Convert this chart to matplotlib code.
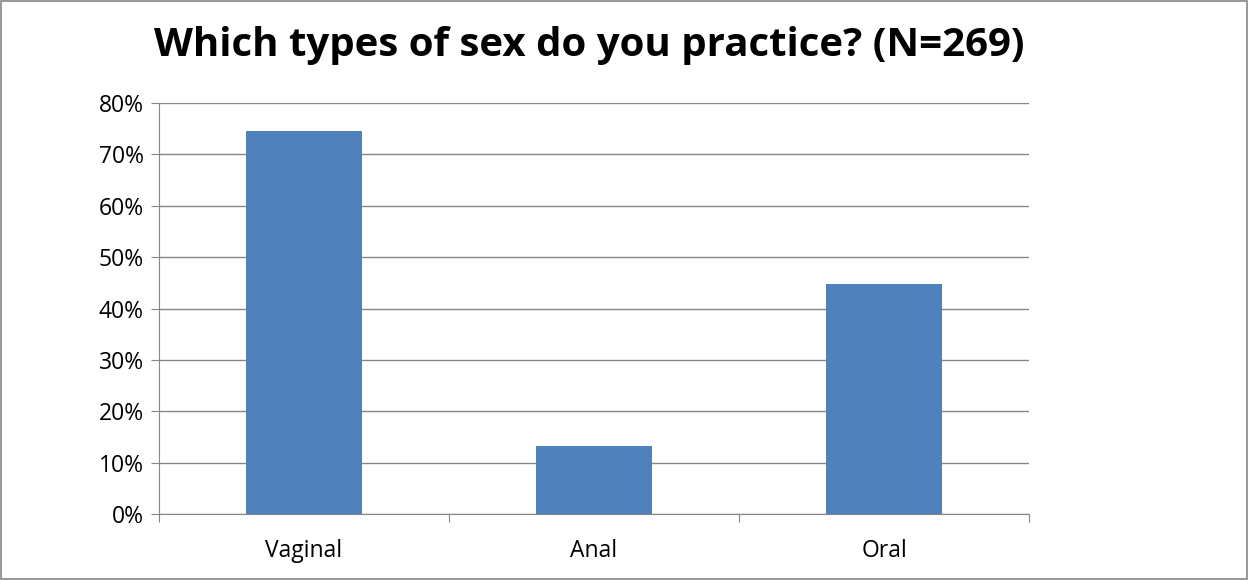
import matplotlib.pyplot as plt
from matplotlib.patches import Rectangle

categories = ['Vaginal', 'Anal', 'Oral']
values = [74.5, 13.2, 44.8]
yticks = [0, 10, 20, 30, 40, 50, 60, 70, 80]

plt.rcParams['font.family'] = ['Open Sans', 'DejaVu Sans']

fig = plt.figure(figsize=(12.49, 5.8), dpi=100)
fig.patches.append(Rectangle((0.001, 0.002), 0.997, 0.996, transform=fig.transFigure,
                             fill=False, edgecolor='#868686', linewidth=1.2))
ax = fig.add_axes([0.1273, 0.1138, 0.6966, 0.7086])

x = range(len(categories))
ax.bar(x, values, width=0.4, color='#4f81bd', zorder=3)

ax.set_xlim(-0.5, 2.5)
ax.set_ylim(0, 80)
ax.set_yticks(yticks)
ax.set_yticklabels([f'{v}%' for v in yticks], fontsize=16.5)
ax.set_xticks([-0.5, 0.5, 1.5, 2.5])
ax.set_xticklabels([])
ax.set_xticks(list(x), minor=True)
ax.set_xticklabels(categories, minor=True, fontsize=16.5)
ax.tick_params(axis='x', which='minor', length=0, pad=18)
ax.tick_params(axis='x', which='major', length=6, color='#868686')
ax.tick_params(axis='y', length=6, color='#868686', pad=5)

ax.grid(axis='y', color='#868686', linewidth=1, zorder=0)
for s in ['top', 'right']:
    ax.spines[s].set_visible(False)
ax.spines['left'].set_color('#868686')
ax.spines['bottom'].set_color('#868686')

fig.text(0.472, 0.922, 'Which types of sex do you practice? (N=269)', ha='center', va='center',
         fontsize=29, fontweight='bold')

fig.savefig('out.png', dpi=100)
